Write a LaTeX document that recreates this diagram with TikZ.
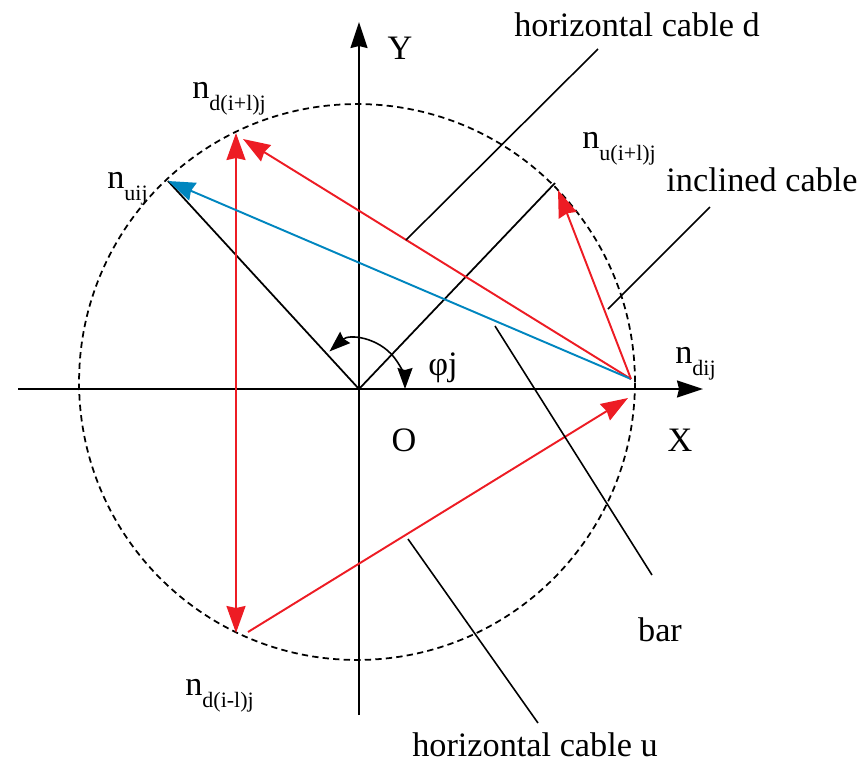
\documentclass[tikz,border=0pt]{standalone}
\usepackage{fontspec}
\setmainfont{Liberation Serif}
\usepackage{xcolor}
\definecolor{cabred}{RGB}{237,28,36}
\definecolor{cabblue}{RGB}{0,134,191}
\usetikzlibrary{arrows.meta, calc}
\newcommand{\nsub}[1]{n\raisebox{-7pt}{\fontsize{12.5}{14}\selectfont #1}}

\begin{document}
\begin{tikzpicture}[
    x=0.02cm, y=-0.02cm,
    lbl/.style={font=\fontsize{19.5}{23}\selectfont, inner sep=0pt},
    nlbl/.style={lbl, anchor=base west},
    axis/.style={-{Stealth[length=5.2mm, width=3.4mm, inset=0.4mm]}, line width=1pt},
    rarr/.style={-{Stealth[length=5.4mm, width=3.8mm, inset=0.4mm]}, line width=1.1pt, cabred},
    barr/.style={-{Stealth[length=5.4mm, width=3.8mm, inset=0.4mm]}, line width=1.1pt, cabblue},
    member/.style={line width=1pt, black},
    leader/.style={line width=0.9pt, black},
  ]
    \useasboundingbox (0,0) rectangle (862,762);

    % --- key points ---
    \coordinate (O)      at (359,389);
    \coordinate (C)      at (357,382);
    \coordinate (ndij)   at (631,379);
    \coordinate (ndijb)  at (628,398);
    \coordinate (nuij)   at (168,181);
    \coordinate (ndup)   at (236,133);
    \coordinate (ndupb)  at (243,139);
    \coordinate (nddown) at (236,633);
    \coordinate (nddownb) at (248,632);
    \coordinate (nuup)   at (558,190);
    \coordinate (nuupb)  at (555,183);

    % --- axes ---
    \coordinate (xl) at (18,389);
    \coordinate (xr) at (703,389);
    \coordinate (yb) at (359,715);
    \coordinate (yt) at (359,22);
    \draw[axis] (xl) -- (xr);
    \draw[axis] (yb) -- (yt);

    % --- dashed circle ---
    \draw[dash pattern=on 3.6pt off 2.4pt, line width=1pt] (C) circle[radius=5.56cm];

    % --- bars ---
    \draw[member] (O) -- (nuij);
    \draw[member] (O) -- (nuupb);

    % --- angle phi ---
    \draw[line width=0.9pt, {Stealth[length=4.2mm, width=3mm, inset=0.4mm]}-{Stealth[length=4.2mm, width=3mm, inset=0.4mm]}]
      ([shift={(130:0.92cm and 0.98cm)}]O) arc[start angle=130, end angle=0, x radius=0.92cm, y radius=0.98cm];

    % --- cables ---
    \draw[rarr, {Stealth[length=5.4mm, width=3.8mm, inset=0.4mm]}-{Stealth[length=5.4mm, width=3.8mm, inset=0.4mm]}] (nddown) -- (ndup);
    \draw[rarr] (ndij) -- (ndupb);
    \draw[barr] (ndij) -- (nuij);
    \draw[rarr] (ndij) -- (nuup);
    \draw[rarr] (nddownb) -- (ndijb);

    % --- leaders ---
    \coordinate (hdA) at (598,49);  \coordinate (hdB) at (406,240);
    \coordinate (icA) at (710,207); \coordinate (icB) at (608,309);
    \coordinate (brA) at (652,575); \coordinate (brB) at (495,326);
    \coordinate (huA) at (538,723); \coordinate (huB) at (408,539);
    \draw[leader] (hdA) -- (hdB);
    \draw[leader] (icA) -- (icB);
    \draw[leader] (brA) -- (brB);
    \draw[leader] (huA) -- (huB);

    % --- labels ---
    \node[lbl] (lhd) at (637,25)  {horizontal cable d};
    \node[lbl] (lic) at (762,180) {inclined cable};
    \node[lbl] (lbr) at (660,630) {bar};
    \node[lbl] (lhu) at (535,745) {horizontal cable u};
    \node[lbl] (lY)  at (400,48)  {Y};
    \node[lbl] (lX)  at (680,440) {X};
    \node[lbl] (lO)  at (404,440) {O};
    \node[nlbl] (lphi)  at (428,375) {φj};
    \node[nlbl] (lndij) at (675,363) {\nsub{dij}};
    \node[nlbl] (lnuij) at (107,188) {\nsub{uij}};
    \node[nlbl] (lndup) at (192,98)  {\nsub{d(i+l)j}};
    \node[nlbl] (lnuup) at (582,148) {\nsub{u(i+l)j}};
    \node[nlbl] (lnddn) at (185,695) {\nsub{d(i-l)j}};
\end{tikzpicture}
\end{document}
